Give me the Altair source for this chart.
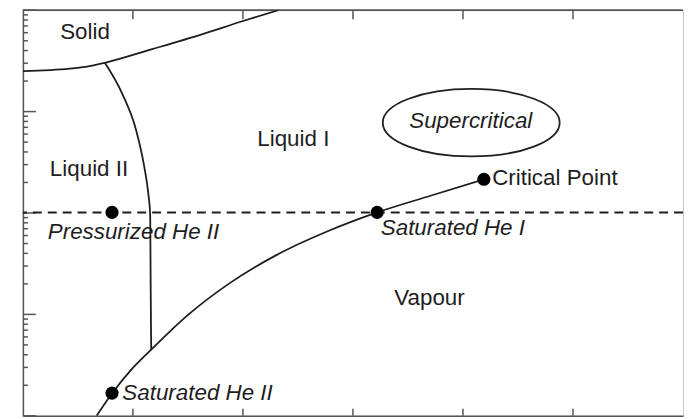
import altair as alt
import pandas as pd

# ---- data (T in K, p in bar) ----
vap_T = [1.67, 1.813, 1.985, 2.166, 2.33, 2.509, 2.870, 3.295, 3.77, 4.22, 4.705, 5.19]
vap_p = [0.0100, 0.01675, 0.0285, 0.0449, 0.067, 0.1005, 0.200, 0.380, 0.66, 1.013, 1.48, 2.15]

lam_T = [1.745, 1.904, 2.030, 2.102, 2.139, 2.157, 2.161, 2.166]
lam_p = [30.3, 14.9, 6.50, 2.90, 1.58, 0.946, 0.211, 0.0449]

melt_T = [1.0, 1.425, 1.605, 1.745, 2.175, 2.626, 2.979, 3.322]
melt_p = [25.1, 26.5, 28.1, 30.3, 41.3, 57.8, 76.9, 100.0]

one_atm = 1.013

dot_T = [1.81, 1.81, 4.22, 5.19]
dot_p = [1.013, 0.01675, 1.013, 2.15]

region_text = ["Solid", "Liquid II", "Liquid I", "Vapour"]
region_T = [1.565, 1.601, 3.458, 4.696]
region_p = [61.1, 2.71, 5.31, 0.144]

italic_center_text = ["Supercritical"]
italic_center_T = [5.071]
italic_center_p = [8.13]

ellipse_T = [5.075]
ellipse_p = [7.78]

point_text = ["Critical Point"]
point_text_T = [5.265]
point_text_p = [2.21]

italic_left_text = ["Pressurized He II", "Saturated He II", "Saturated He I"]
italic_left_T = [1.226, 1.904, 4.253]
italic_left_p = [0.646, 0.01675, 0.706]

x_major = [2, 3, 4, 5, 6]
y_major = [0.01, 0.1, 1, 10, 100]
y_minor_mult = [2, 3, 4, 5, 6, 7, 8, 9]
y_minor = [m * d for d in y_major[:-1] for m in y_minor_mult]

W, H = 664, 408
INK = "#1e1e1e"
FRAME = "#555555"
FONT = "Liberation Sans"
FS = 22.5

xs = alt.Scale(domain=[1, 7], nice=False, zero=False)
ys = alt.Scale(type="log", domain=[0.01, 100], nice=False)
ax = alt.Axis(ticks=False, labels=False, grid=False, title=None,
              domainColor=FRAME, domainWidth=1.5)


def X(f="T"):
    return alt.X(f"{f}:Q", scale=xs, axis=ax)


def Y(f="p"):
    return alt.Y(f"{f}:Q", scale=ys, axis=ax)


curves = pd.concat([
    pd.DataFrame({"T": vap_T, "p": vap_p, "curve": "vapour", "i": range(len(vap_T))}),
    pd.DataFrame({"T": lam_T, "p": lam_p, "curve": "lambda", "i": range(len(lam_T))}),
    pd.DataFrame({"T": melt_T, "p": melt_p, "curve": "melting", "i": range(len(melt_T))}),
])

lines = alt.Chart(curves).mark_line(color=INK, strokeWidth=1.8, clip=True,
                                    interpolate="monotone").encode(
    x=X(), y=Y(), detail="curve:N", order="i:Q")

dashed = alt.Chart(pd.DataFrame({"p": [one_atm]})).mark_rule(
    color=INK, strokeWidth=2, strokeDash=[9, 6]).encode(y=Y())

dots = alt.Chart(pd.DataFrame({"T": dot_T, "p": dot_p})).mark_circle(
    color="black", opacity=1, size=175).encode(x=X(), y=Y())

ellipse = alt.Chart(pd.DataFrame({"T": ellipse_T, "p": ellipse_p})).mark_point(
    shape="M -1 0 A 1 0.382 0 1 1 1 0 A 1 0.382 0 1 1 -1 0 Z",
    size=(2 * 89) ** 2, filled=False, color=INK, strokeWidth=1.8, opacity=1
).encode(x=X(), y=Y())

regions = alt.Chart(pd.DataFrame({"T": region_T, "p": region_p, "t": region_text})).mark_text(
    font=FONT, fontSize=FS, color=INK, align="center", baseline="middle"
).encode(x=X(), y=Y(), text="t:N")

supercrit = alt.Chart(pd.DataFrame({"T": italic_center_T, "p": italic_center_p, "t": italic_center_text})).mark_text(
    font=FONT, fontSize=FS, fontStyle="italic", color=INK, align="center", baseline="middle"
).encode(x=X(), y=Y(), text="t:N")

cp_label = alt.Chart(pd.DataFrame({"T": point_text_T, "p": point_text_p, "t": point_text})).mark_text(
    font=FONT, fontSize=FS, color=INK, align="left", baseline="middle"
).encode(x=X(), y=Y(), text="t:N")

it_labels = alt.Chart(pd.DataFrame({"T": italic_left_T, "p": italic_left_p, "t": italic_left_text})).mark_text(
    font=FONT, fontSize=FS, fontStyle="italic", color=INK, align="left", baseline="middle"
).encode(x=X(), y=Y(), text="t:N")

# inward ticks
left_major = alt.Chart(pd.DataFrame({"p": y_major})).mark_rule(color=FRAME, strokeWidth=1.5).encode(
    y=Y(), x=alt.value(0), x2=alt.value(13))
left_minor = alt.Chart(pd.DataFrame({"p": y_minor})).mark_rule(color=FRAME, strokeWidth=1.5).encode(
    y=Y(), x=alt.value(0), x2=alt.value(5))
top_ticks = alt.Chart(pd.DataFrame({"T": x_major})).mark_rule(color=FRAME, strokeWidth=1.5).encode(
    x=X(), y=alt.value(0), y2=alt.value(9))
bottom_ticks = alt.Chart(pd.DataFrame({"T": x_major})).mark_rule(color=FRAME, strokeWidth=1.5).encode(
    x=X(), y=alt.value(H - 7), y2=alt.value(H))
top_frame = alt.Chart(pd.DataFrame({"T": [1, 7]})).mark_rule(color=FRAME, strokeWidth=1.5).encode(
    x=alt.value(0), x2=alt.value(W), y=alt.value(0))

chart = alt.layer(
    top_frame, left_major, left_minor, top_ticks, bottom_ticks,
    lines, dashed, ellipse, dots, regions, supercrit, cp_label, it_labels
).properties(
    width=W, height=H,
    padding={"left": 14, "top": 0, "right": 0, "bottom": 0},
).configure_view(stroke="#c8c8c8", strokeWidth=1)

chart.save("out.html", embed_options={"renderer": "svg", "actions": False})
